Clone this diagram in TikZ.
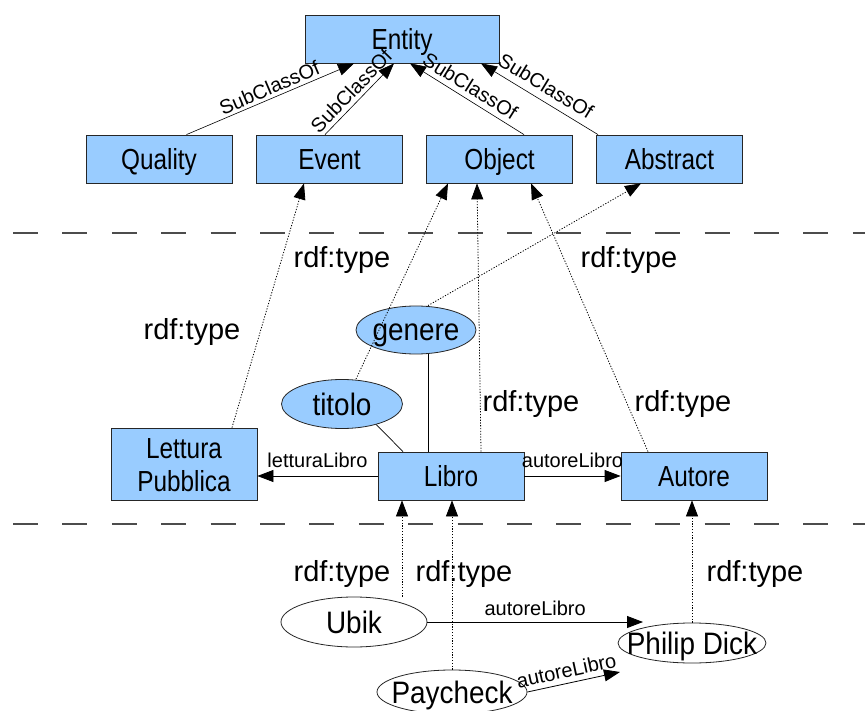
\documentclass[tikz,border=0pt]{standalone}
\usepackage{fontspec}
\setmainfont{Liberation Sans}
\newfontfamily\narrowfont{Liberation Sans}[FakeStretch=0.84]
\newfontfamily\ovalfont{Liberation Sans}[FakeStretch=0.9]
\usetikzlibrary{arrows.meta,shapes.geometric}
\definecolor{classblue}{HTML}{99CCFF}
\begin{document}
\begin{tikzpicture}[x=1pt,y=-1pt,
  cls/.style={draw=black!85,fill=classblue,line width=0.8pt,minimum width=146pt,
    minimum height=48pt,inner sep=0pt,align=center,text height=21pt,text depth=0pt,
    font=\narrowfont\fontsize{29}{33}\selectfont},
  oval/.style={ellipse,draw=black!85,line width=0.8pt,inner sep=0pt,
    text height=22pt,text depth=0pt,
    font=\ovalfont\fontsize{31}{34}\selectfont},
  prop/.style={oval,fill=classblue},
  inst/.style={oval,fill=white},
  tip/.style={-{Triangle[length=16pt,width=12pt]}},
  sub/.style={tip,line width=0.6pt},
  typ/.style={tip,line width=0.8pt,dash pattern=on 1.2pt off 1.6pt},
  rel/.style={tip,line width=0.8pt},
  lnk/.style={line width=0.7pt},
  small/.style={font=\fontsize{20}{22}\selectfont,inner sep=1pt},
  typelbl/.style={font=\fontsize{29}{32}\selectfont,inner sep=0pt},
  sep/.style={draw=black!70,line width=1.2pt,dash pattern=on 25pt off 24.4pt}
]
\useasboundingbox (0,0) rectangle (865,711);

% layer separators
\coordinate (sepAl) at (13,233);
\coordinate (sepAr) at (865,233);
\coordinate (sepBl) at (13,524);
\coordinate (sepBr) at (865,524);
\draw[sep] (sepAl) -- (sepAr);
\draw[sep] (sepBl) -- (sepBr);

% upper ontology
\node[cls,minimum width=194pt] (entity) at (402,39) {Entity};
\node[cls] (quality) at (159,159) {Quality};
\node[cls] (event) at (329.5,159) {Event};
\node[cls] (object) at (499.5,159) {Object};
\node[cls] (abstract) at (669.5,159) {Abstract};

% domain classes and properties
\node[cls,minimum height=72pt,text height=54pt] (lettura) at (184,464) {Lettura\\Pubblica};
\node[cls] (libro) at (451,476) {Libro};
\node[cls] (autore) at (694,476) {Autore};
\node[prop,minimum width=120pt,minimum height=48pt] (genere) at (416,330) {\makebox[0pt]{genere}};
\node[prop,minimum width=121pt,minimum height=49pt] (titolo) at (342,404) {\makebox[0pt]{titolo}};

% instances
\node[inst,minimum width=146pt,minimum height=50pt] (ubik) at (354,622) {\makebox[0pt]{Ubik}};
\node[inst,minimum width=150pt,minimum height=44pt] (paycheck) at (452,692) {\makebox[0pt]{Paycheck}};
\node[inst,minimum width=148pt,minimum height=40pt] (dick) at (692,643) {\makebox[0pt]{Philip Dick}};

% subclass links
\draw[sub] ([xshift=27.5pt]quality.north) -- node[small,sloped,above=2pt,pos=0.52]{SubClassOf} ([xshift=-48pt]entity.south);
\draw[sub] ([xshift=-4.5pt]event.north) -- node[small,sloped,above=3pt,pos=0.5]{SubClassOf} ([xshift=-8pt]entity.south);
\draw[sub] ([xshift=24.5pt]object.north) -- node[small,sloped,above=4pt,pos=0.53]{SubClassOf} ([xshift=8pt]entity.south);
\draw[sub] ([xshift=-71.5pt]abstract.north) -- node[small,sloped,above=6pt,pos=0.51]{SubClassOf} ([xshift=79pt]entity.south);

% typing of classes and properties
\draw[typ] ([xshift=48pt]lettura.north) -- ([xshift=-25.5pt]event.south);
\draw[typ] ([xshift=14pt]titolo.north) -- ([xshift=-51.5pt]object.south);
\draw[typ] ([xshift=12pt]genere.north) -- ([xshift=-28.5pt]abstract.south);
\draw[typ] ([xshift=30pt]libro.north) -- ([xshift=-22.5pt]object.south);
\draw[typ] ([xshift=-46pt]autore.north) -- ([xshift=31.5pt]object.south);

\node[typelbl] (t1) at (342,260) {rdf:type};
\node[typelbl] (t2) at (629,260) {rdf:type};
\node[typelbl] (t3) at (192,332) {rdf:type};
\node[typelbl] (t4) at (531,404) {rdf:type};
\node[typelbl] (t5) at (683,404) {rdf:type};

% properties attached to Libro
\draw[lnk] ([xshift=12pt]genere.south) -- ([xshift=-23pt]libro.north);
\draw[lnk] (titolo.-31) -- ([xshift=-48pt]libro.north);
\draw[rel] (libro.west) -- node[small,above=7pt]{letturaLibro} (libro.west -| lettura.east);
\draw[rel] (libro.east) -- node[small,above=7pt]{autoreLibro} (autore.west);

% instance level
\draw[typ] ([xshift=48pt]ubik.north) -- ([xshift=-49pt]libro.south);
\draw[typ] (paycheck.north) -- (paycheck.north |- libro.south);
\draw[typ] (dick.north) -- (dick.north |- autore.south);

\node[typelbl] (t6) at (342,574) {rdf:type};
\node[typelbl] (t7) at (464,574) {rdf:type};
\node[typelbl] (t8) at (755,574) {rdf:type};

\coordinate (dickin) at ([xshift=-49pt]dick.north);
\coordinate (dickpay) at ([xshift=-72pt,yshift=-29pt]dick.center);
\draw[rel] (ubik.east) -- node[small,above=5pt]{autoreLibro} (ubik.east -| dickin);
\draw[rel] (paycheck.east) -- node[small,sloped,above=4pt,pos=0.45]{autoreLibro} (dickpay);
\end{tikzpicture}
\end{document}
